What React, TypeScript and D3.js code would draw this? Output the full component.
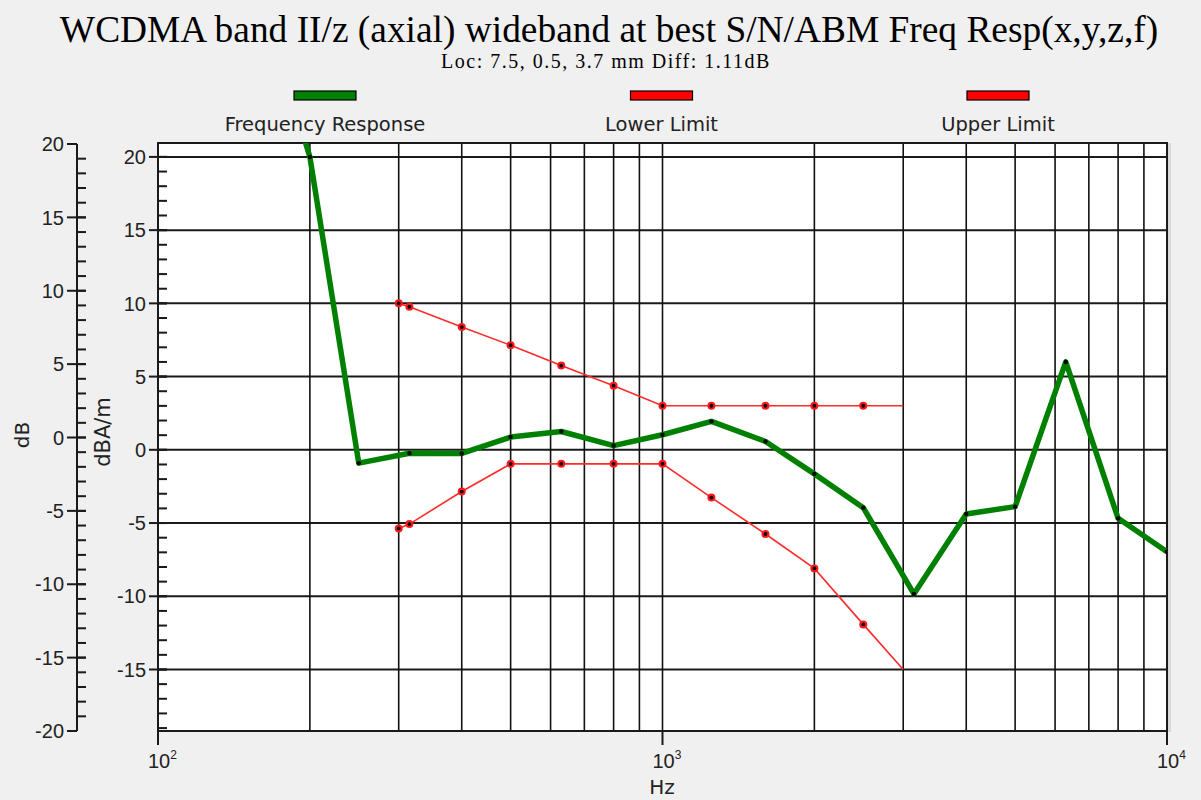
import React from 'react';
import * as d3 from 'd3';

const width = 1201;
const height = 800;

// frequency response (dBA/m) at 1/3 octave points
const respFreqs = [160, 200, 250, 315, 400, 500, 630, 800, 1000, 1250, 1600, 2000, 2500, 3150, 4000, 5000, 6300, 8000, 10000];
const respValues = [31, 20.0, -0.91, -0.23, -0.25, 0.87, 1.25, 0.29, 1.03, 1.94, 0.57, -1.64, -3.95, -9.84, -4.38, -3.88, 6.0, -4.68, -6.96];

// limit masks
const limitFreqs = [300, 315, 400, 500, 630, 800, 1000, 1250, 1600, 2000, 2500, 3000];
const upperLimit = [10, 9.77, 8.38, 7.14, 5.75, 4.38, 3.01, 3.01, 3.01, 3.01, 3.01, 3.01];
const lowerLimit = [-5.37, -5.07, -2.85, -0.96, -0.96, -0.96, -0.96, -3.26, -5.75, -8.1, -11.92, -15.0];

const legendNames = ['Frequency Response', 'Lower Limit', 'Upper Limit'];
const legendColors = ['#008000', '#ff0000', '#ff0000'];

const outerTicks = [20, 15, 10, 5, 0, -5, -10, -15, -20];
const innerTicks = [20, 15, 10, 5, 0, -5, -10, -15];
const decades = [100, 1000, 10000];
const decadeExp = ['2', '3', '4'];
const minorFreqs = [200, 300, 400, 500, 600, 700, 800, 900, 2000, 3000, 4000, 5000, 6000, 7000, 8000, 9000];

const plot = { left: 158, right: 1167, top: 143, bottom: 731 };

const App = () => {
  const x = d3.scaleLog().domain([100, 10000]).range([plot.left, plot.right]);
  const y = d3.scaleLinear().domain([-19.2, 20.95]).range([plot.bottom, plot.top]);
  const yOuter = d3.scaleLinear().domain([-20, 20]).range([731, 144]);

  const line = d3.line<[number, number]>().x(d => x(d[0])).y(d => y(d[1]));

  const respPts: [number, number][] = respFreqs.map((f, i) => [f, respValues[i]]);
  const upPts: [number, number][] = limitFreqs.map((f, i) => [f, upperLimit[i]]);
  const lowPts: [number, number][] = limitFreqs.map((f, i) => [f, lowerLimit[i]]);

  const innerMinor = d3.range(-19, 21, 1);
  const outerMinor = d3.range(-19, 20, 1);
  const tickFont = '"Liberation Sans", Arial, sans-serif';
  const labelFont = '"DejaVu Sans", sans-serif';

  return (
    <svg width={width} height={height} style={{ position: 'absolute', left: 0, top: 0, background: '#f0f0f0' }}>
      <defs>
        <clipPath id="plotClip">
          <rect x={plot.left} y={plot.top} width={plot.right - plot.left} height={plot.bottom - plot.top} />
        </clipPath>
      </defs>
      <rect width={width} height={height} fill="#f0f0f0" />

      {/* titles */}
      <text x={609} y={42} textAnchor="middle" fontFamily='"Liberation Serif", serif' fontSize={37.4} fill="#000">
        WCDMA band II/z (axial) wideband at best S/N/ABM Freq Resp(x,y,z,f)
      </text>
      <text x={606} y={68} textAnchor="middle" fontFamily='"Liberation Serif", serif' fontSize={20} letterSpacing={1.5} fill="#000">
        Loc: 7.5, 0.5, 3.7 mm Diff: 1.11dB
      </text>

      {/* legend */}
      {legendNames.map((n, i) => {
        const cx = 325 + i * 336.5;
        return (
          <g key={n}>
            <rect x={cx - 31} y={91} width={62} height={9} fill={legendColors[i]} stroke="#000" strokeWidth={1.2} />
            <text x={cx} y={131} textAnchor="middle" fontFamily={labelFont} fontSize={19.5} fill="#222">{n}</text>
          </g>
        );
      })}

      {/* plot area */}
      <rect x={plot.left} y={plot.top} width={plot.right - plot.left} height={plot.bottom - plot.top} fill="#fff" />
      {innerTicks.map(t => (
        <line key={'h' + t} x1={plot.left} x2={plot.right} y1={y(t)} y2={y(t)} stroke="#1a1a1a" strokeWidth={2} />
      ))}
      {minorFreqs.concat([1000]).map(f => (
        <line key={'v' + f} x1={x(f)} x2={x(f)} y1={plot.top} y2={plot.bottom} stroke="#111" strokeWidth={1.6} />
      ))}
      <rect x={plot.left} y={plot.top} width={plot.right - plot.left} height={plot.bottom - plot.top} fill="none" stroke="#1a1a1a" strokeWidth={2} />
      <rect x={plot.right + 1} y={plot.top} width={3} height={plot.bottom - plot.top + 1} fill="#d8d8d8" />

      <g clipPath="url(#plotClip)">
        <path d={line(upPts) || ''} fill="none" stroke="#ff2a2a" strokeWidth={1.6} />
        <path d={line(lowPts) || ''} fill="none" stroke="#ff2a2a" strokeWidth={1.6} />
        {[upPts, lowPts].map((pts, k) =>
          pts.slice(0, -1).map((p, i) => (
            <g key={k + '-' + i}>
              <circle cx={x(p[0])} cy={y(p[1])} r={4} fill="#ff1a1a" />
              <circle cx={x(p[0])} cy={y(p[1])} r={1.9} fill="#000" />
            </g>
          ))
        )}
        <path d={line(respPts) || ''} fill="none" stroke="#008000" strokeWidth={5.5} strokeLinejoin="round" />
        {respPts.map((p, i) => (
          <circle key={'r' + i} cx={x(p[0])} cy={y(p[1])} r={2.2} fill="#000" />
        ))}
      </g>

      {/* inner axis (dBA/m) */}
      <line x1={plot.left} x2={plot.left} y1={plot.top} y2={plot.bottom} stroke="#1a1a1a" strokeWidth={2} />
      {innerMinor.map(t => (
        <line key={'im' + t} x1={plot.left} x2={plot.left + 9} y1={y(t)} y2={y(t)} stroke="#1a1a1a" strokeWidth={2} />
      ))}
      {innerTicks.map(t => (
        <g key={'it' + t}>
          <line x1={plot.left - 9} x2={plot.left + 9} y1={y(t)} y2={y(t)} stroke="#1a1a1a" strokeWidth={2} />
          <text x={plot.left - 12} y={y(t)} dy="0.36em" textAnchor="end" fontFamily={tickFont} fontSize={20} fill="#222">{t}</text>
        </g>
      ))}

      {/* outer axis (dB) */}
      <line x1={77} x2={77} y1={yOuter(20)} y2={yOuter(-20)} stroke="#1a1a1a" strokeWidth={2} />
      {outerMinor.map(t => (
        <line key={'om' + t} x1={77} x2={86} y1={yOuter(t)} y2={yOuter(t)} stroke="#1a1a1a" strokeWidth={2} />
      ))}
      {outerTicks.map(t => (
        <g key={'ot' + t}>
          <line x1={67} x2={Math.abs(t) === 20 ? 77 : 86} y1={yOuter(t)} y2={yOuter(t)} stroke="#1a1a1a" strokeWidth={2} />
          <text x={64} y={yOuter(t)} dy="0.36em" textAnchor="end" fontFamily={tickFont} fontSize={20} fill="#222">{t}</text>
        </g>
      ))}

      {/* x axis */}
      {decades.map((f, i) => (
        <g key={'d' + f}>
          <line x1={x(f)} x2={x(f)} y1={plot.bottom} y2={plot.bottom + 14} stroke="#1a1a1a" strokeWidth={2} />
          <text x={x(f) - 10} y={768} fontFamily={tickFont} fontSize={20} fill="#222">
            10<tspan dy={-9} fontSize={12}>{decadeExp[i]}</tspan>
          </text>
        </g>
      ))}
      <text x={662} y={794} textAnchor="middle" fontFamily={labelFont} fontSize={20} fill="#222">Hz</text>

      <text transform="translate(29,435) rotate(-90)" textAnchor="middle" fontFamily={labelFont} fontSize={20} fill="#222">dB</text>
      <text transform="translate(110,432) rotate(-90)" textAnchor="middle" fontFamily={labelFont} fontSize={21} fill="#222">dBA/m</text>
    </svg>
  );
};

export default App;
